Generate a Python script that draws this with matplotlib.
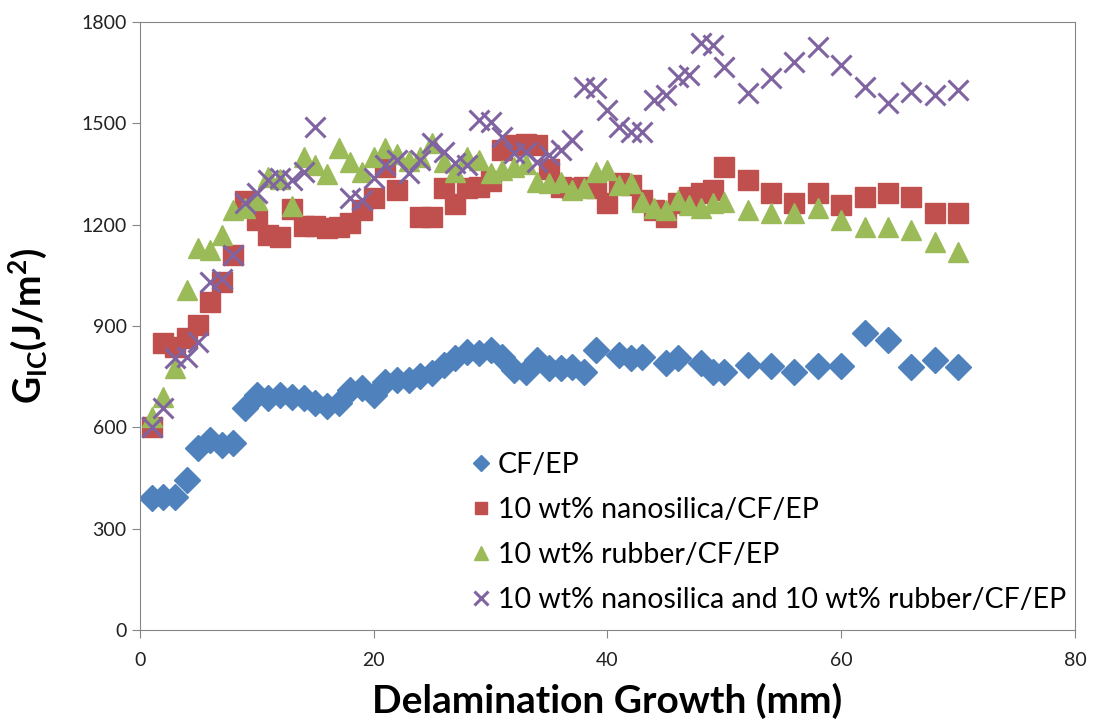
import matplotlib
matplotlib.use("Agg")
import matplotlib.pyplot as plt

plt.rcParams["font.family"] = ["Lato", "DejaVu Sans"]
plt.rcParams["mathtext.default"] = "regular"

# Data
cf_x = list(range(1, 40)) + [41, 42, 43, 45, 46, 48, 49, 50] + list(range(52, 71, 2))
cf_y = [390, 393, 393, 444, 539, 563, 548, 553, 657, 696,
        687, 696, 690, 687, 672, 662, 672, 711, 716, 696,
        734, 740, 740, 752, 761, 785, 805, 823, 820, 829,
        808, 770, 764, 799, 776, 776, 779, 764, 829,
        814, 805, 808, 790, 805, 790, 764, 764,
        785, 782, 764, 782, 782, 879, 859, 779, 800, 779]

ns_x = list(range(1, 23)) + list(range(24, 51)) + list(range(52, 71, 2))
ns_y = [601, 850, 838, 864, 903, 970, 1030, 1110, 1270, 1214,
        1170, 1164, 1245, 1195, 1195, 1190, 1193, 1205, 1244, 1279,
        1370, 1303, 1223, 1223, 1309, 1260, 1309, 1312, 1330, 1420,
        1435, 1440, 1435, 1365, 1312, 1309, 1312, 1309, 1264, 1323,
        1318, 1273, 1244, 1223, 1264, 1282, 1294, 1303, 1371,
        1332, 1294, 1264, 1294, 1258, 1282, 1294, 1282, 1235, 1235]

rb_x = list(range(1, 51)) + list(range(52, 71, 2))
rb_y = [631, 690, 776, 1007, 1131, 1125, 1170, 1244, 1250, 1273,
        1341, 1335, 1255, 1401, 1377, 1350, 1427, 1386, 1356, 1401,
        1427, 1410, 1390, 1400, 1442, 1386, 1356, 1400, 1392, 1353,
        1362, 1371, 1380, 1327, 1323, 1327, 1303, 1309, 1356, 1362,
        1318, 1323, 1267, 1250, 1244, 1273, 1258, 1250, 1264, 1267,
        1244, 1235, 1235, 1250, 1214, 1193, 1193, 1184, 1149, 1119]

hy_x = list(range(1, 16)) + list(range(18, 51)) + list(range(52, 71, 2))
hy_y = [601, 657, 805, 808, 853, 1030, 1040, 1110, 1264, 1294,
        1332, 1338, 1332, 1356, 1489,
        1279, 1273, 1338, 1377, 1392, 1353, 1392, 1442, 1415, 1383,
        1377, 1510, 1504, 1460, 1412, 1415, 1386, 1406, 1421, 1451,
        1608, 1605, 1540, 1489, 1475, 1475, 1569, 1584, 1638, 1643,
        1738, 1732, 1667,
        1590, 1634, 1682, 1726, 1673, 1608, 1560, 1593, 1584, 1599]

labels = ["CF/EP", "10 wt% nanosilica/CF/EP", "10 wt% rubber/CF/EP",
          "10 wt% nanosilica and 10 wt% rubber/CF/EP"]

fig = plt.figure(figsize=(10.93, 7.27), dpi=100)
ax = fig.add_axes([0.128, 0.1334, 0.8555, 0.8363])

ax.plot(cf_x, cf_y, "D", color="#4F81BD", ms=13, mec="#4F81BD", label=labels[0])
ax.plot(ns_x, ns_y, "s", color="#C0504D", ms=14, mec="#C0504D", label=labels[1])
ax.plot(rb_x, rb_y, "^", color="#9BBB59", ms=15, mec="#9BBB59", label=labels[2])
ax.plot(hy_x, hy_y, "x", color="#8064A2", ms=15, mew=2.2, label=labels[3])

ax.set_xlim(0, 80)
ax.set_ylim(0, 1800)
ax.set_xticks([0, 20, 40, 60, 80])
ax.set_yticks([0, 300, 600, 900, 1200, 1500, 1800])
for s in ax.spines.values():
    s.set_color("#868686")
ax.tick_params(direction="out", length=6, color="#868686", labelsize=14,
               labelcolor="#222222")
ax.tick_params(axis="x", pad=10)

ax.set_xlabel("Delamination Growth (mm)", fontsize=28, fontweight="bold", labelpad=10)
ax.set_ylabel(r"G$_{IC}$(J/m$^{2}$)", fontsize=27, fontweight="bold")
ax.yaxis.set_label_coords(-0.097, 0.5)

leg = ax.legend(loc="upper left", bbox_to_anchor=(0.343, 0.311), borderaxespad=0,
                frameon=False, fontsize=20.5, markerscale=0.65, handlelength=0.6,
                handletextpad=0.3, labelspacing=0.66)

plt.savefig("out.png")
